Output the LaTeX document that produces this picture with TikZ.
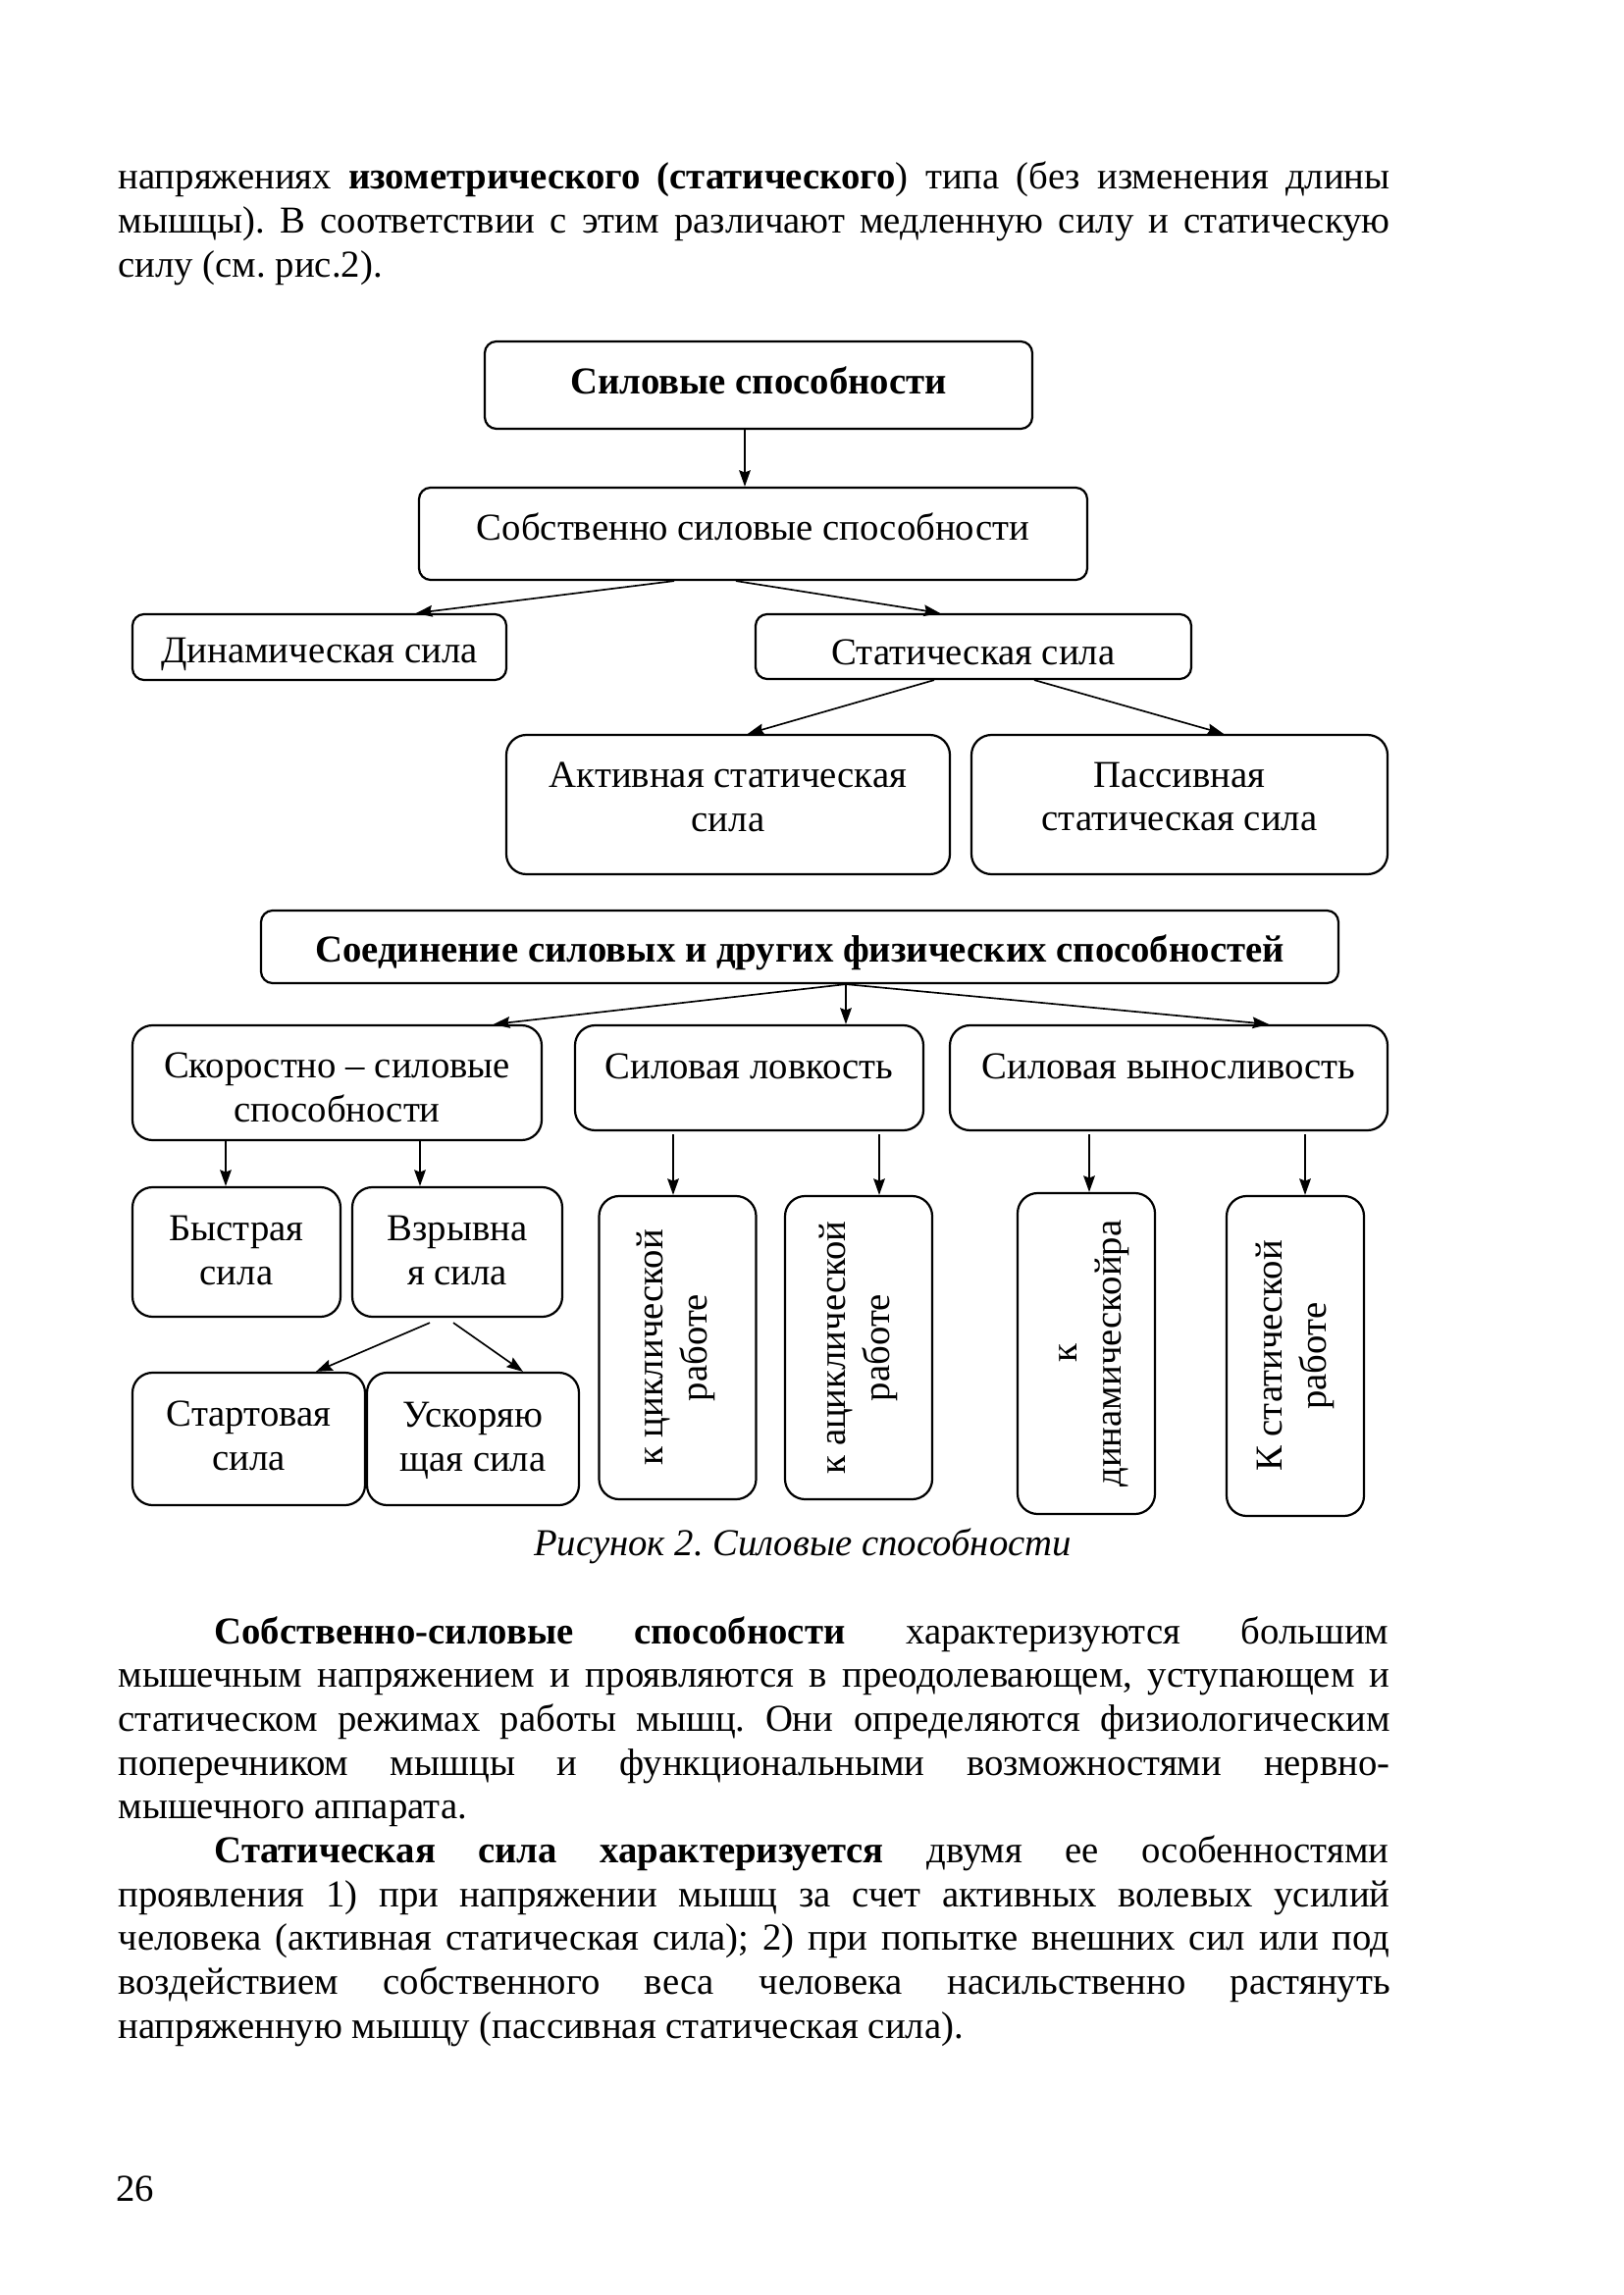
\documentclass[tikz,border=0pt]{standalone}
\usepackage{fontspec}
\setmainfont{Liberation Serif}
\usetikzlibrary{calc,arrows.meta}
\newcommand\fs{\fontsize{14}{16.2}\selectfont}
\newlength\tw \setlength\tw{164.6mm}
\newlength\twi \setlength\twi{152.0mm}
\frenchspacing
\begin{document}
\begin{tikzpicture}[x=0.127mm, y=-0.127mm,
  every node/.style={font=\fs},
  box/.style={draw, line width=0.8pt, rounded corners=1.5mm, inner sep=0pt, align=center},
  rbox/.style={box, rounded corners=2.6mm},
  sz/.style 2 args={minimum width=#1*0.127mm, minimum height=#2*0.127mm},
  arr/.style={line width=0.6pt, -{Stealth[length=6pt,width=4.2pt,inset=0.8pt]}},
  lbl/.style={inner sep=0pt, align=center},
  txt/.style={inner sep=0pt, anchor=base west}]
\fill[white] (0,0) rectangle (1654,2339);
\useasboundingbox (0,0) rectangle (1654,2339);

% top paragraph
\node[txt] (p1) at (120,193) {\makebox[\tw][s]{напряжениях \textbf{изометрического (статического}) типа (без изменения длины}};
\node[txt] (p2) at (120,238) {\makebox[\tw][s]{мышцы). В соответствии с этим различают медленную силу и статическую}};
\node[txt] (p3) at (120,283) {силу (см. рис.2).};

% diagram, part 1
\node[box, sz={558}{89}] (n1) at (773,392.5) {};
\node[lbl, font=\fs\bfseries] (t1) at ($(n1.center)+(0,-4.5)$) {Силовые способности};
\node[box, sz={681}{94}] (n2) at (767.5,544) {};
\node[lbl] (t2) at ($(n2.center)+(0,-7.5)$) {Собственно силовые способности};
\node[box, sz={381}{67}] (n3) at (325.5,659.5) {};
\node[lbl] (t3) at ($(n3.center)+(0,7.5)$) {Динамическая сила};
\node[box, sz={444}{66}] (n4) at (992,659) {};
\node[lbl] (t4) at ($(n4.center)+(0,6)$) {Статическая сила};
\node[rbox, sz={452}{142}] (n5) at (742,820) {};
\node[lbl] (t5) at ($(n5.center)+(0,-8)$) {Активная статическая\\сила};
\node[rbox, sz={424}{142}] (n6) at (1202,820) {};
\node[lbl] (t6) at ($(n6.center)+(0,-8)$) {Пассивная\\статическая сила};

\draw[arr] ($(n1.south)+(-14,0)$) -- ($(n2.north)+(-8.5,0)$);
\draw[arr] ($(n2.south)+(-80.5,0)$) -- ($(n3.north)+(98.5,0)$);
\draw[arr] ($(n2.south)+(-17.5,0)$) -- ($(n4.north)+(-34,0)$);
\draw[arr] ($(n4.south)+(-40,0)$) -- ($(n5.north)+(20,0)$);
\draw[arr] ($(n4.south)+(62,0)$) -- ($(n6.north)+(45,0)$);

% diagram, part 2
\node[box, sz={1098}{74}] (n7) at (815,965) {};
\node[lbl, font=\fs\bfseries] (t7) at ($(n7.center)+(0,6)$) {Соединение силовых и других физических способностей};
\node[rbox, sz={417}{117}] (n8) at (343.5,1103.5) {};
\node[lbl] (t8) at ($(n8.center)+(0,4.5)$) {Скоростно – силовые\\способности};
\node[rbox, sz={355}{107}] (n9) at (763.5,1098.5) {};
\node[lbl] (t9) at ($(n9.center)+(0,-12)$) {Силовая ловкость};
\node[rbox, sz={446}{107}] (n10) at (1191,1098.5) {};
\node[lbl] (t10) at ($(n10.center)+(0,-12)$) {Силовая выносливость};

\draw[arr] ($(n7.south)+(47,0)$) -- ($(n8.north)+(159.5,0)$);
\draw[arr] ($(n7.south)+(47,0)$) -- ($(n9.north)+(98.5,0)$);
\draw[arr] ($(n7.south)+(47,0)$) -- ($(n10.north)+(102,0)$);

\node[rbox, sz={212}{132}] (n11) at (241,1276) {};
\node[lbl] (t11) at ($(n11.center)+(0,-1.5)$) {Быстрая\\сила};
\node[rbox, sz={214}{132}] (n12) at (466,1276) {};
\node[lbl] (t12) at ($(n12.center)+(0,-1.5)$) {Взрывна\\я сила};
\node[rbox, sz={237}{135}] (n13) at (253.5,1466.5) {};
\node[lbl] (t13) at ($(n13.center)+(0,-3)$) {Стартовая\\сила};
\node[rbox, sz={216}{135}] (n14) at (482,1466.5) {};
\node[lbl] (t14) at ($(n14.center)+(0,1.5)$) {Ускоряю\\щая сила};

\node[rbox, sz={160}{309}] (n15) at (690.5,1373.5) {};
\node[lbl, rotate=90] (t15) at ($(n15.center)+(-2,0)$) {к циклической\\работе};
\node[rbox, sz={150}{309}] (n16) at (875,1373.5) {};
\node[lbl, rotate=90] (t16) at (n16.center) {к ациклической\\работе};
\node[rbox, sz={140}{327}] (n17) at (1107,1379.5) {};
\node[lbl, rotate=90] (t17) at ($(n17.center)+(8,0)$) {к\\динамическойра};
\node[rbox, sz={140}{326}] (n18) at (1320,1382) {};
\node[lbl, rotate=90] (t18) at (n18.center) {К статической\\работе};

\draw[arr] ($(n8.south)+(-113.5,0)$) -- ($(n11.north)+(-11,0)$);
\draw[arr] ($(n8.south)+(84.5,0)$) -- ($(n12.north)+(-38,0)$);
\draw[arr] ($(n9.south)+(-77.5,3)$) -- ($(n15.north)+(-4.5,0)$);
\draw[arr] ($(n9.south)+(132.5,3)$) -- ($(n16.north)+(21,0)$);
\draw[arr] ($(n10.south)+(-81,3)$) -- ($(n17.north)+(3,0)$);
\draw[arr] ($(n10.south)+(139,3)$) -- ($(n18.north)+(10,0)$);
\draw[arr] ($(n12.south)+(-28,5)$) -- ($(n13.north)+(68.5,0)$);
\draw[arr] ($(n12.south)+(-4,5)$) -- ($(n14.north)+(51,0)$);

\node[inner sep=0pt, anchor=base, font=\fs\itshape] (cap) at (818,1585) {Рисунок 2. Силовые способности};

% bottom paragraphs
\node[txt] (q1) at (218,1675) {\makebox[\twi][s]{\textbf{Собственно-силовые способности} характеризуются большим}};
\node[txt] (q2) at (120,1719.7) {\makebox[\tw][s]{мышечным напряжением и проявляются в преодолевающем, уступающем и}};
\node[txt] (q3) at (120,1764.4) {\makebox[\tw][s]{статическом режимах работы мышц. Они определяются физиологическим}};
\node[txt] (q4) at (120,1809.1) {\makebox[\tw][s]{поперечником мышцы и функциональными возможностями нервно-}};
\node[txt] (q5) at (120,1853.8) {мышечного аппарата.};
\node[txt] (q6) at (218,1898.5) {\makebox[\twi][s]{\textbf{Статическая сила характеризуется} двумя ее особенностями}};
\node[txt] (q7) at (120,1943.2) {\makebox[\tw][s]{проявления 1) при напряжении мышц за счет активных волевых усилий}};
\node[txt] (q8) at (120,1987.9) {\makebox[\tw][s]{человека (активная статическая сила); 2) при попытке внешних сил или под}};
\node[txt] (q9) at (120,2032.6) {\makebox[\tw][s]{воздействием собственного веса человека насильственно растянуть}};
\node[txt] (q10) at (120,2077.3) {напряженную мышцу (пассивная статическая сила).};

\node[txt] (pg) at (118,2243) {26};
\end{tikzpicture}
\end{document}
